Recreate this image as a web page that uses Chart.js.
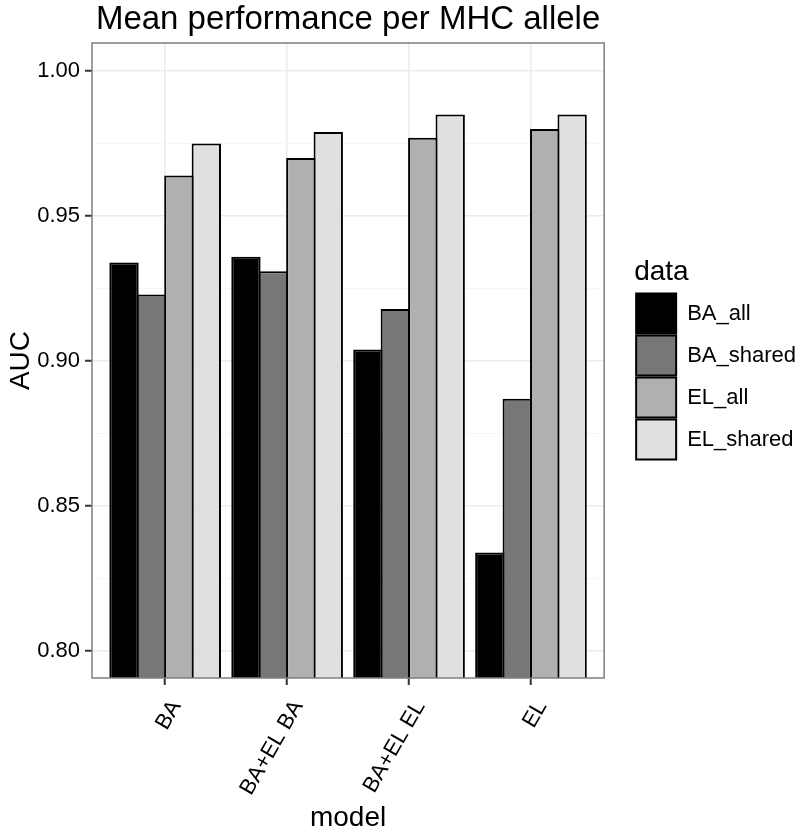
<!DOCTYPE html>
<html><head><meta charset="utf-8">
<script src="https://cdn.jsdelivr.net/npm/chart.js@4/dist/chart.umd.min.js"></script>
<style>html,body{margin:0;padding:0;background:#fff;}</style>
</head><body>
<canvas id="c" width="800" height="833"></canvas>
<script>
// ---- data ----
const models = ['BA', 'BA+EL BA', 'BA+EL EL', 'EL'];
const seriesNames = ['BA_all', 'BA_shared', 'EL_all', 'EL_shared'];
const BA_all    = [0.934, 0.936, 0.904, 0.834];
const BA_shared = [0.923, 0.931, 0.918, 0.887];
const EL_all    = [0.964, 0.970, 0.977, 0.980];
const EL_shared = [0.975, 0.979, 0.985, 0.985];
const yTickValues = [0.80, 0.825, 0.85, 0.875, 0.90, 0.925, 0.95, 0.975, 1.00];
const yMin = 0.7907, yMax = 1.0097;

// ---- styles ----
const fills = ['#000000', '#777777', '#b0b0b0', '#e0e0e0'];
const FONT = "'Liberation Sans', Arial, Helvetica, sans-serif";
Chart.defaults.font.family = FONT;
Chart.defaults.color = '#000';

const seriesValues = [BA_all, BA_shared, EL_all, EL_shared];
const isMajor = v => Math.round(v * 1000) % 50 === 0;

const panelBorder = {
  id: 'panelBorder',
  afterDatasetsDraw(chart) {
    const {ctx, chartArea: a} = chart;
    ctx.save();
    ctx.strokeStyle = '#7f7f7f';
    ctx.lineWidth = 1.5;
    ctx.strokeRect(a.left, a.top, a.right - a.left, a.bottom - a.top);
    ctx.restore();
  }
};

new Chart(document.getElementById('c'), {
  type: 'bar',
  data: {
    datasets: seriesNames.map((name, k) => ({
      label: name,
      data: seriesValues[k].map((v, i) => ({x: i, y: v})),
      backgroundColor: fills[k],
      borderColor: '#000',
      borderWidth: 2,
      borderSkipped: 'start',
      inflateAmount: 0,
      categoryPercentage: 0.9,
      barPercentage: 1.07
    }))
  },
  options: {
    responsive: false,
    animation: false,
    devicePixelRatio: 1,
    layout: {padding: {left: 0, right: -6, top: 0, bottom: 0}},
    plugins: {
      title: {
        display: true,
        text: 'Mean performance per MHC allele',
        fullSize: false,
        color: '#000',
        font: {size: 33, weight: 'normal'},
        padding: {top: 0, bottom: 3.4}
      },
      legend: {
        position: 'right',
        align: 'start',
        maxWidth: 220,
        title: {
          display: true,
          text: 'data',
          position: 'start',
          color: '#000',
          font: {size: 28, weight: 'normal'},
          padding: {top: 258, bottom: 0}
        },
        labels: {
          boxWidth: 40,
          boxHeight: 40,
          padding: 2,
          color: '#000',
          font: {size: 22}
        }
      },
      tooltip: {enabled: false}
    },
    scales: {
      x: {
        type: 'linear',
        min: -0.6,
        max: 3.6,
        offset: false,
        afterBuildTicks: s => { s.ticks = models.map((m, i) => ({value: i})); },
        afterFit: s => { s.height = 155; },
        grid: {
          offset: false,
          color: '#ebebeb',
          lineWidth: 1.5,
          tickColor: '#333',
          tickWidth: 2,
          tickLength: 7
        },
        border: {display: false},
        ticks: {
          autoSkip: false,
          minRotation: 60,
          maxRotation: 60,
          padding: 11,
          labelOffset: 11,
          color: '#000',
          font: {size: 22},
          callback: v => models[v]
        },
        title: {
          display: true,
          text: 'model',
          color: '#000',
          font: {size: 28},
          padding: {top: 0, bottom: -2}
        }
      },
      y: {
        type: 'linear',
        min: yMin,
        max: yMax,
        afterBuildTicks: s => { s.ticks = yTickValues.map(v => ({value: v})); },
        afterFit: s => { s.width = 92; },
        grid: {
          color: c => isMajor(c.tick.value) ? '#ebebeb' : '#f6f6f6',
          lineWidth: c => isMajor(c.tick.value) ? 1.5 : 1,
          tickColor: c => isMajor(c.tick.value) ? '#333' : 'rgba(0,0,0,0)',
          tickWidth: 2,
          tickLength: 7
        },
        border: {display: false},
        ticks: {
          autoSkip: false,
          padding: 5,
          color: '#000',
          font: {size: 22},
          callback: v => isMajor(v) ? v.toFixed(2) : ''
        },
        title: {
          display: true,
          text: 'AUC',
          color: '#000',
          font: {size: 28},
          padding: {top: 4, bottom: 0}
        }
      },
      gap: {
        type: 'linear',
        position: 'right',
        display: true,
        afterFit: s => { s.width = 30; },
        grid: {display: false, drawTicks: false},
        border: {display: false},
        ticks: {display: false}
      }
    }
  },
  plugins: [panelBorder]
});
</script>
</body></html>
